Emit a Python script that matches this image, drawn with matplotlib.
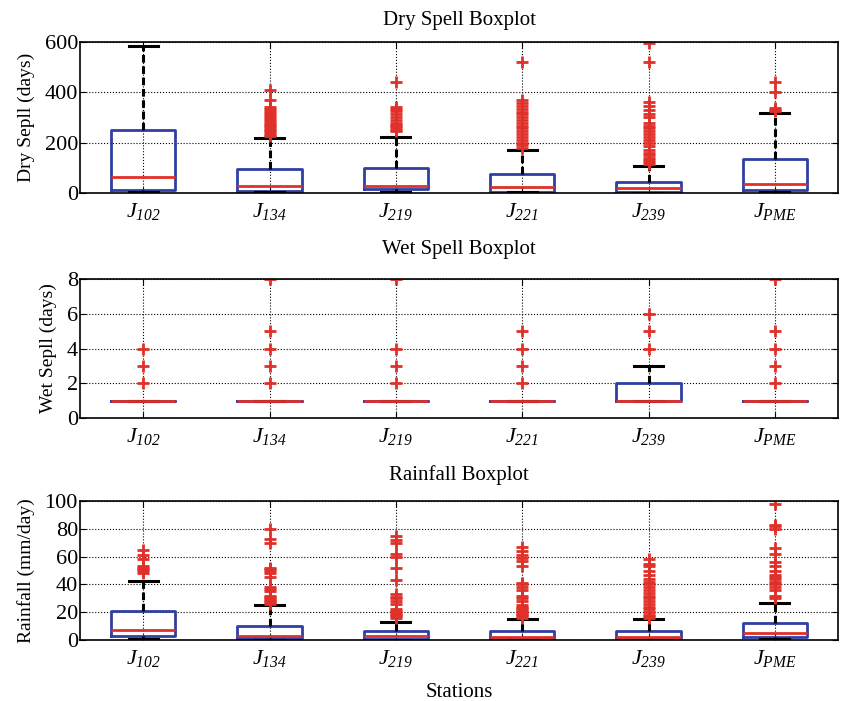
import matplotlib
matplotlib.use('Agg')
import matplotlib.pyplot as plt

plt.rcParams['font.family'] = ['Liberation Serif', 'DejaVu Serif']
plt.rcParams['mathtext.fontset'] = 'custom'
plt.rcParams['mathtext.rm'] = 'Liberation Serif:italic'
plt.rcParams['mathtext.it'] = 'Liberation Serif:italic'

stations = ['102', '134', '219', '221', '239', 'PME']

# dry spell (days): q1, median, q3, whisker low, whisker high
dry_q1 = [12, 9, 15, 5, 2, 12]
dry_med = [65, 29, 29, 24, 19, 36]
dry_q3 = [250, 95, 100, 77, 44, 136]
dry_lo = [3, 3, 3, 2, 0, 3]
dry_hi = [585, 220, 224, 171, 107, 319]
dry_out = [
    [],
    [225, 230, 238, 245, 252, 258, 265, 272, 280, 288, 295, 302, 310, 318, 325, 332, 340, 368, 410],
    [245, 252, 258, 265, 272, 280, 290, 300, 315, 325, 335, 340, 440],
    [180, 190, 200, 210, 222, 235, 245, 258, 268, 280, 290, 300, 312, 322, 335, 345, 358, 368, 520],
    [115, 122, 130, 140, 150, 160, 172, 185, 198, 210, 222, 235, 248, 258, 268, 278, 300, 315,
     330, 345, 360, 520, 595],
    [325, 330, 338, 400, 440],
]

# wet spell (days)
wet_q1 = [1, 1, 1, 1, 1, 1]
wet_med = [1, 1, 1, 1, 1, 1]
wet_q3 = [1, 1, 1, 1, 2, 1]
wet_lo = [1, 1, 1, 1, 1, 1]
wet_hi = [1, 1, 1, 1, 3, 1]
wet_out = [
    [2, 3, 4],
    [2, 3, 4, 5, 8],
    [2, 3, 4, 8],
    [2, 3, 4, 5],
    [4, 5, 6],
    [2, 3, 4, 5, 8],
]

# rainfall (mm/day)
rain_q1 = [3, 1.2, 1, 1, 1, 2.2]
rain_med = [7.4, 2.9, 2.9, 2.4, 2.4, 4.8]
rain_q3 = [21, 10.3, 6.5, 6.5, 6.5, 12.2]
rain_lo = [0.5, 0, 0, 0, 0, 0.5]
rain_hi = [42.6, 24.9, 12.9, 14.8, 14.8, 26.8]
rain_out = [
    [48, 50, 51, 52, 53, 58, 61, 65],
    [26, 27, 28, 29, 30, 31, 32, 35, 37, 38, 45, 48, 50, 51, 52, 70, 73, 80],
    [16, 17, 18, 19, 20, 21, 22, 26, 28, 30, 31, 33, 43, 52, 60, 62, 70, 72, 75],
    [16, 17, 18, 19, 20, 21, 22, 23, 24, 25, 28, 30, 32, 36, 38, 40, 41, 53, 57, 59, 61, 64, 67],
    [16, 17, 18, 20, 22, 24, 26, 28, 30, 32, 34, 36, 38, 40, 42, 44, 47, 50, 53, 55, 58],
    [30, 32, 36, 38, 40, 42, 44, 45, 47, 50, 53, 56, 62, 66, 80, 82, 83, 98],
]

BLUE = '#2f3fa3'
RED = '#e0302a'


def make_stats(q1, med, q3, lo, hi, out):
    stats = []
    for i in range(len(q1)):
        stats.append(dict(q1=q1[i], med=med[i], q3=q3[i], whislo=lo[i], whishi=hi[i],
                          fliers=out[i], label=stations[i]))
    return stats


def draw(ax, stats, title, ylabel, ylim, yticks, pad):
    ax.bxp(stats, positions=range(1, 7), widths=0.51, showfliers=True,
           boxprops=dict(color=BLUE, linewidth=2),
           medianprops=dict(color=RED, linewidth=2),
           whiskerprops=dict(color='black', linewidth=2.2, linestyle=(0, (2.5, 1.2))),
           capprops=dict(color='black', linewidth=2.2),
           capwidths=0.23,
           flierprops=dict(marker='+', markeredgecolor=RED, markersize=9, markeredgewidth=2))
    ax.set_xlim(0.5, 6.5)
    ax.set_ylim(*ylim)
    ax.set_yticks(yticks)
    ax.set_xticks(range(1, 7))
    ax.set_xticklabels([r'$J_{%s}$' % s for s in stations], fontsize=17)
    ax.tick_params(axis='both', direction='in', top=True, right=True, length=4, labelsize=16)
    ax.tick_params(axis='x', pad=6)
    ax.tick_params(axis='y', pad=1.5)
    ax.grid(True, linestyle=':', color='black', linewidth=0.8)
    ax.set_axisbelow(True)
    for sp in ax.spines.values():
        sp.set_linewidth(1.2)
    ax.set_title(title, fontsize=15, pad=pad)
    ax.set_ylabel(ylabel, fontsize=14, labelpad=7)


fig = plt.figure(figsize=(8.46, 7.01), dpi=100)
ax1 = fig.add_axes([0.0946, 0.7247, 0.896, 0.2154])
ax2 = fig.add_axes([0.0946, 0.4037, 0.896, 0.1983])
ax3 = fig.add_axes([0.0946, 0.0870, 0.896, 0.1983])

draw(ax1, make_stats(dry_q1, dry_med, dry_q3, dry_lo, dry_hi, dry_out),
     'Dry Spell Boxplot', 'Dry Sepll (days)', (0, 600), [0, 200, 400, 600], 12)
draw(ax2, make_stats(wet_q1, wet_med, wet_q3, wet_lo, wet_hi, wet_out),
     'Wet Spell Boxplot', 'Wet Sepll (days)', (0, 8), [0, 2, 4, 6, 8], 18)
draw(ax3, make_stats(rain_q1, rain_med, rain_q3, rain_lo, rain_hi, rain_out),
     'Rainfall Boxplot', 'Rainfall (mm/day)', (0, 100), [0, 20, 40, 60, 80, 100], 15)
ax3.set_xlabel('Stations', fontsize=15, labelpad=10)

fig.savefig('out.png', dpi=100)
